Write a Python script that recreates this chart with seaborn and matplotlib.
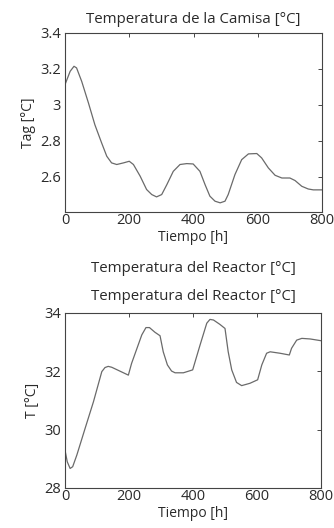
import matplotlib
matplotlib.use("Agg")
import matplotlib.pyplot as plt
import seaborn as sns
import pandas as pd

# Jacket temperature (Tag) vs time
t_tag = [0, 16, 28, 36, 52, 73, 93, 114, 130, 145, 161, 182, 200, 213, 234, 254, 270,
         285, 301, 317, 337, 358, 379, 399, 420, 436, 451, 467, 483, 498, 508, 529, 550,
         571, 597, 612, 633, 654, 675, 700, 716, 737, 757, 773, 800]
tag = [3.113, 3.187, 3.215, 3.206, 3.131, 3.011, 2.89, 2.789, 2.715, 2.678, 2.669, 2.678,
       2.687, 2.669, 2.604, 2.53, 2.502, 2.489, 2.502, 2.557, 2.631, 2.669, 2.674, 2.672,
       2.631, 2.557, 2.493, 2.465, 2.456, 2.465, 2.502, 2.613, 2.696, 2.728, 2.73, 2.706,
       2.65, 2.609, 2.594, 2.594, 2.58, 2.548, 2.533, 2.528, 2.528]

# Reactor temperature (T) vs time
t_reac = [0, 7, 16, 24, 37, 63, 89, 115, 125, 135, 146, 198, 208, 240, 253, 264, 281,
          297, 307, 320, 333, 344, 370, 399, 422, 443, 453, 464, 484, 500, 510, 521, 536,
          552, 578, 602, 615, 630, 641, 672, 701, 708, 724, 740, 766, 800]
treac = [29.3, 28.9, 28.67, 28.73, 29.13, 30.05, 30.96, 31.99, 32.13, 32.17, 32.14,
         31.87, 32.27, 33.25, 33.5, 33.5, 33.34, 33.22, 32.67, 32.22, 32.01, 31.95, 31.95,
         32.05, 32.9, 33.65, 33.78, 33.76, 33.61, 33.47, 32.67, 32.05, 31.62, 31.51, 31.59,
         31.71, 32.22, 32.62, 32.67, 32.62, 32.56, 32.79, 33.07, 33.13, 33.11, 33.05]

x_ticks = [0, 200, 400, 600, 800]
tag_ticks = [2.6, 2.8, 3.0, 3.2, 3.4]
tag_labels = ["2.6", "2.8", "3", "3.2", "3.4"]
t_ticks = [28, 30, 32, 34]

sns.set_style("white")
plt.rcParams['font.family'] = ['Open Sans', 'DejaVu Sans']
txt = "#2a2a2a"
line_c = "#6a6a6a"
FS = 10
TITLE_FS = 10.8
TFS = 10.5

fig = plt.figure(figsize=(3.34, 5.28), dpi=100)

df1 = pd.DataFrame({"t": t_tag, "v": tag})
df2 = pd.DataFrame({"t": t_reac, "v": treac})

ax1 = fig.add_axes([65/334, 1-212/528, 257/334, 179/528])
sns.lineplot(data=df1, x="t", y="v", ax=ax1, color=line_c, linewidth=0.9)
ax1.set_xlim(0, 800)
ax1.set_ylim(2.405, 3.4)
ax1.set_xticks(x_ticks)
ax1.set_xticklabels([str(v) for v in x_ticks])
ax1.set_yticks(tag_ticks)
ax1.set_yticklabels(tag_labels)
ax1.set_title("Temperatura de la Camisa [°C]", fontsize=TITLE_FS, color=txt, pad=7.5)
ax1.set_xlabel("Tiempo [h]", fontsize=FS, color=txt, labelpad=1)
ax1.set_ylabel("Tag [°C]", fontsize=FS, color=txt, labelpad=3)

ax2 = fig.add_axes([65/334, 1-488/528, 256/334, 175/528])
sns.lineplot(data=df2, x="t", y="v", ax=ax2, color=line_c, linewidth=0.9)
ax2.set_xlim(0, 800)
ax2.set_ylim(28, 34)
ax2.set_xticks(x_ticks)
ax2.set_xticklabels([str(v) for v in x_ticks])
ax2.set_yticks(t_ticks)
ax2.set_yticklabels([str(v) for v in t_ticks])
ax2.set_title("Temperatura del Reactor [°C]", fontsize=TITLE_FS, color=txt, pad=9)
ax2.set_xlabel("Tiempo [h]", fontsize=FS, color=txt, labelpad=1)
ax2.set_ylabel("T [°C]", fontsize=FS, color=txt, labelpad=3)

for ax in (ax1, ax2):
    ax.tick_params(direction="in", length=3, width=0.6, top=True, right=True,
                   labelsize=TFS, colors=txt)
    ax.tick_params(axis="x", pad=1)
    ax.tick_params(axis="y", pad=3)
    for s in ax.spines.values():
        s.set_color("#444444")
        s.set_linewidth(0.8)

# duplicated title artifact from the original figure
fig.text(193/334, 1-268/528, "Temperatura del Reactor [°C]", fontsize=TITLE_FS, color=txt,
         ha="center", va="center")

fig.savefig("out.png", dpi=100)
